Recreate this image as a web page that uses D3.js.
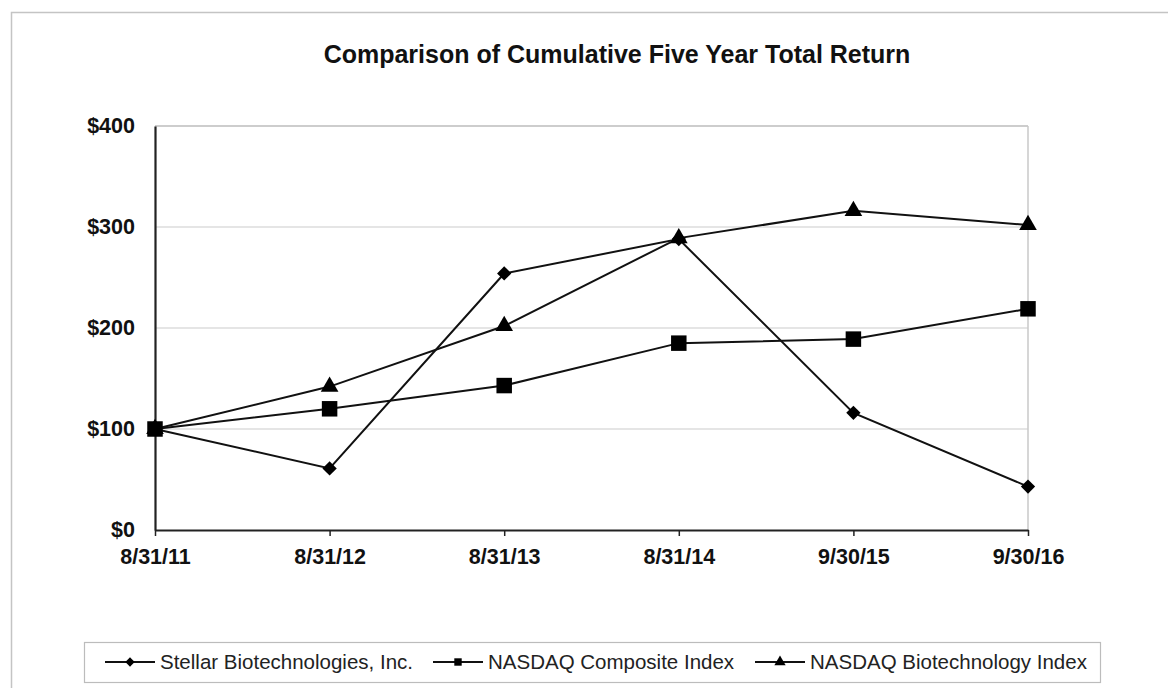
<!DOCTYPE html>
<html>
<head>
<meta charset="utf-8">
<script src="https://cdn.jsdelivr.net/npm/d3@7"></script>
<style>
  body { margin: 0; background: #fff; }
  svg { display: block; font-family: Arial, "Liberation Sans", sans-serif; }
</style>
</head>
<body>
<div id="chart"></div>
<script>
const dates = ["8/31/11", "8/31/12", "8/31/13", "8/31/14", "9/30/15", "9/30/16"];
const stellar = [100, 61, 254, 288, 116, 43];
const composite = [100, 120, 143, 185, 189, 219];
const biotech = [100, 142, 202, 289, 316, 302];
const yTicks = [0, 100, 200, 300, 400];

const seriesList = [
  {name: "Stellar Biotechnologies, Inc.", values: stellar, symbol: d3.symbolDiamond2, size: 130},
  {name: "NASDAQ Composite Index", values: composite, symbol: d3.symbolSquare, size: 240},
  {name: "NASDAQ Biotechnology Index", values: biotech, symbol: d3.symbolTriangle, size: 135}
];

var W = 1168, H = 688;
var margin = {top: 126, right: 140, bottom: 158, left: 155},
    width = W - margin.left - margin.right,
    height = H - margin.top - margin.bottom;

const root = d3.select("#chart")
  .append("svg")
    .attr("width", W)
    .attr("height", H);

// outer frame
root.append("rect")
  .attr("x", 11.5).attr("y", 12.5)
  .attr("width", W).attr("height", H)
  .attr("fill", "none")
  .attr("stroke", "#c4c4c4")
  .attr("stroke-width", 1.5);

// title
root.append("text")
  .attr("x", 617).attr("y", 63)
  .attr("text-anchor", "middle")
  .style("font-size", "25px")
  .style("font-weight", "bold")
  .attr("fill", "#111")
  .text("Comparison of Cumulative Five Year Total Return");

const svg = root.append("g")
  .attr("transform", `translate(${margin.left},${margin.top})`);

const x = d3.scalePoint()
  .domain(dates)
  .range([0, width]);

const y = d3.scaleLinear()
  .domain([0, 400])
  .range([height, 0]);

//grid
svg.append("g")
  .selectAll("line")
  .data(yTicks.filter(d => d > 0))
  .join("line")
    .attr("x1", 0).attr("x2", width)
    .attr("y1", d => y(d)).attr("y2", d => y(d))
    .attr("stroke", d => d === 400 ? "#bdbdbd" : "#dcdcdc")
    .attr("stroke-width", 1.5);

svg.append("line")
  .attr("x1", width).attr("x2", width)
  .attr("y1", 0).attr("y2", height)
  .attr("stroke", "#c8c8c8")
  .attr("stroke-width", 1.5);

//Y axis
const yAxis = svg.append("g")
  .call(d3.axisLeft(y).tickValues(yTicks).tickSize(0).tickPadding(20).tickFormat(d => "$" + d));
yAxis.select(".domain").attr("stroke", "#222").attr("stroke-width", 2.2);
yAxis.selectAll("text")
  .style("font-size", "21.5px")
  .style("font-weight", "bold")
  .attr("fill", "#111");

//X axis
const xAxis = svg.append("g")
  .attr("transform", `translate(0,${height})`)
  .call(d3.axisBottom(x).tickSizeInner(6).tickSizeOuter(0).tickPadding(13));
xAxis.select(".domain").attr("stroke", "#222").attr("stroke-width", 2.2);
xAxis.selectAll(".tick line").attr("stroke", "#222").attr("stroke-width", 1.5);
xAxis.selectAll("text")
  .style("font-size", "21.5px")
  .style("font-weight", "bold")
  .attr("fill", "#111");

//lines
const line = d3.line()
  .x((d, i) => x(dates[i]))
  .y(d => y(d));

seriesList.forEach(s => {
  svg.append("path")
    .datum(s.values)
    .attr("fill", "none")
    .attr("stroke", "#111")
    .attr("stroke-width", 2)
    .attr("d", line);
});

seriesList.forEach(s => {
  svg.append("g")
    .selectAll("path")
    .data(s.values)
    .join("path")
      .attr("transform", (d, i) => `translate(${x(dates[i])},${y(d)})`)
      .attr("d", d3.symbol().type(s.symbol).size(s.size))
      .attr("fill", "#000");
});

//legend
const legend = root.append("g");
legend.append("rect")
  .attr("x", 84.5).attr("y", 642.5)
  .attr("width", 1016).attr("height", 40)
  .attr("fill", "#fff")
  .attr("stroke", "#bcbcbc")
  .attr("stroke-width", 1.2);

const legendX = [105, 433, 755];
seriesList.forEach((s, i) => {
  const g = legend.append("g").attr("transform", `translate(${legendX[i]},662)`);
  g.append("line")
    .attr("x1", 0).attr("x2", 50)
    .attr("stroke", "#111").attr("stroke-width", 2);
  g.append("path")
    .attr("transform", "translate(25,0)")
    .attr("d", d3.symbol().type(s.symbol).size(55))
    .attr("fill", "#000");
  g.append("text")
    .attr("x", 55).attr("y", 6.5)
    .style("font-size", "20.5px")
    .attr("fill", "#222")
    .text(s.name);
});
</script>
</body>
</html>
